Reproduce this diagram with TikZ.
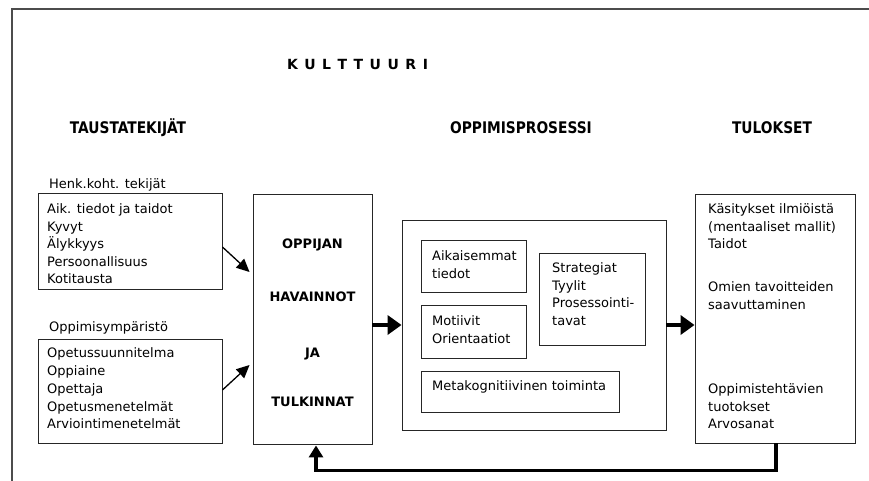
\documentclass[tikz,border=0pt]{standalone}
\usepackage{fontspec}
\setmainfont{DejaVu Sans}
\newfontfamily\hdrfont{DejaVu Sans}[FakeStretch=0.86]
\usetikzlibrary{arrows.meta}
\begin{document}
\begin{tikzpicture}[x=1pt,y=-1pt,
  box/.style={draw=black!85, line width=0.9pt, inner sep=0pt},
  txt/.style={anchor=north west, inner sep=0pt, align=left, font=\fontsize{13}{17.5}\selectfont},
  capline/.style={anchor=base, inner sep=0pt, font=\fontsize{13}{16}\selectfont\bfseries},
  hdr/.style={anchor=base, inner sep=0pt, font=\hdrfont\bfseries\fontsize{16}{18}\selectfont},
  framestyle/.style={draw=black!70, line width=1.6pt},
  thinarrow/.style={-{Triangle[length=13pt,width=12pt]}, line width=1.3pt},
  thickarrow/.style={-{Triangle[length=14pt,width=19pt]}, line width=4pt},
  fbarrow/.style={-{Triangle[length=12pt,width=14pt]}, line width=3.5pt},
]
\useasboundingbox (0,0) rectangle (869,481);
% outer frame
\draw[framestyle] (12,481) -- (12,9) -- (869,9);

% headers
\node[anchor=base, inner sep=0pt, font=\fontsize{14}{16}\selectfont\bfseries] (kult) at (357.5,70)
  {K\kern6.5pt U\kern6.5pt L\kern6.5pt T\kern6.5pt T\kern6.5pt U\kern6.5pt U\kern6.5pt R\kern6.5pt I};
\node[hdr] (h1) at (128,134) {TAUSTATEKIJÄT};
\node[hdr] (h2) at (521,134) {OPPIMISPROSESSI};
\node[hdr] (h3) at (772,134) {TULOKSET};

% left side
\node[txt] (l1) at (49,176.25) {\strut Henk.koht. tekijät};
\node[box, minimum width=184pt, minimum height=96pt] (b1) at (130,241) {};
\node[txt] (t1) at (47,201.25) {\strut Aik. tiedot ja taidot\\Kyvyt\\Älykkyys\\Persoonallisuus\\Kotitausta};

\node[txt] (l2) at (49,319.25) {\strut Oppimisympäristö};
\node[box, minimum width=184pt, minimum height=104pt] (b2) at (130,391) {};
\node[txt, font=\fontsize{13}{17.75}\selectfont] (t2) at (47,345.25) {\strut Opetussuunnitelma\\Oppiaine\\Opettaja\\Opetusmenetelmät\\Arviointimenetelmät};

% learner box
\node[box, minimum width=119pt, minimum height=250pt] (opp) at (312.5,319) {};
\node[capline] (o1) at (312.5,248.7) {OPPIJAN};
\node[capline] (o2) at (312.5,301.7) {HAVAINNOT};
\node[capline] (o3) at (312.5,357.7) {JA};
\node[capline] (o4) at (312.5,406.7) {TULKINNAT};

% process box
\node[box, minimum width=264pt, minimum height=210pt] (proc) at (534,325) {};
\node[box, minimum width=105pt, minimum height=52pt] (aik) at (473.5,266) {};
\node[txt] (aikt) at (432,248.25) {\strut Aikaisemmat\\tiedot};
\node[box, minimum width=105pt, minimum height=53pt] (mot) at (473.5,331.5) {};
\node[txt] (mott) at (432,313.25) {\strut Motiivit\\Orientaatiot};
\node[box, minimum width=106pt, minimum height=92pt] (str) at (592,299) {};
\node[txt] (strt) at (552,260.25) {\strut Strategiat\\Tyylit\\Prosessointi-\\tavat};
\node[box, minimum width=198pt, minimum height=41pt] (meta) at (520,391.5) {};
\node[txt] (metat) at (432,378.25) {\strut Metakognitiivinen toiminta};

% results box
\node[box, minimum width=160pt, minimum height=249pt] (res) at (775,318.5) {};
\node[txt] (r1) at (708,201.25) {\strut Käsitykset ilmiöistä\\(mentaaliset mallit)\\Taidot};
\node[txt] (r2) at (708,279.25) {\strut Omien tavoitteiden\\saavuttaminen};
\node[txt] (r3) at (708,381.25) {\strut Oppimistehtävien\\tuotokset\\Arvosanat};

% connectors
\draw[thinarrow] ([yshift=-6pt]b1.east) -- ([xshift=-3pt,yshift=47pt]opp.west);
\draw[thinarrow] ([yshift=1pt]b2.east) -- ([xshift=-3pt,yshift=-46pt]opp.west);
\draw[thickarrow] (opp.east |- proc.west) -- (proc.west);
\draw[thickarrow] (proc.east) -- (proc.east -| res.west);
\draw[fbarrow] ([xshift=1pt]res.south) -- ++(0,27) -| ([xshift=3.5pt,yshift=-1pt]opp.south);
\end{tikzpicture}
\end{document}
